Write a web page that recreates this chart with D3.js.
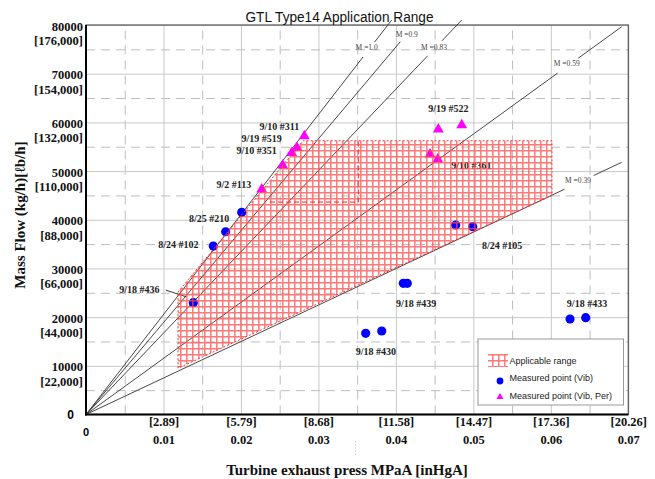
<!DOCTYPE html>
<html><head><meta charset="utf-8">
<script src="https://cdn.jsdelivr.net/npm/d3@7"></script>
<style>
html,body{margin:0;padding:0;background:#fff;}
svg{display:block;}
</style></head>
<body>
<svg id="chart" width="655" height="479"></svg>
<script>
// ---------------- DATA ----------------
const chartTitle = "GTL Type14 Application Range";
const xTitle = "Turbine exhaust press MPaA [inHgA]";
const yTitle = "Mass Flow (kg/h)[\u2113b/h]";

const xTicks = [0.01, 0.02, 0.03, 0.04, 0.05, 0.06, 0.07];
const xTickDecimal = ["0.01", "0.02", "0.03", "0.04", "0.05", "0.06", "0.07"];
const xTickInHg = ["[2.89]", "[5.79]", "[8.68]", "[11.58]", "[14.47]", "[17.36]", "[20.26]"];
const xMinorTicks = [0.005, 0.015, 0.025, 0.035, 0.045, 0.055, 0.065];

const yTicks = [10000, 20000, 30000, 40000, 50000, 60000, 70000, 80000];
const yTickLbh = ["[22,000]", "[44,000]", "[66,000]", "[88,000]", "[110,000]", "[132,000]", "[154,000]", "[176,000]"];
const yMinorTicks = [5000, 15000, 25000, 35000, 45000, 55000, 65000, 75000];

// Measured point (Vib): [MPaA, kg/h]
const vibPoints = [
  [0.01385, 22960], [0.01643, 34600], [0.01803, 37540], [0.0201, 41520],
  [0.0361, 16670], [0.03817, 17150], [0.04096, 26940], [0.04147, 26940],
  [0.06248, 19610], [0.0645, 19880], [0.04772, 38920], [0.04992, 38570]
];
// Measured point (Vib, Per)
const vibPerPoints = [
  [0.02268, 46450], [0.02539, 51380], [0.02655, 53960], [0.02724, 55000],
  [0.02818, 57390], [0.04548, 58770], [0.0485, 59650], [0.0444, 53650], [0.0454, 52620]
];
// Point annotations: text, anchor [MPaA, kg/h]
const pointLabelText = ["9/18 #436", "8/24 #102", "8/25 #210", "9/2 #113", "9/10 #351", "9/19 #519", "9/10 #311",
  "9/19 #522", "9/10 #361", "8/24 #105", "9/18 #439", "9/18 #430", "9/18 #433"];
const pointLabelPos = [
  [0.00688, 25770], [0.01191, 34960], [0.01588, 40300], [0.0191, 47140], [0.02203, 54320], [0.02268, 56730],
  [0.02495, 59250], [0.04677, 62890], [0.04976, 51240], [0.0537, 34810], [0.0426, 22840], [0.03743, 12840],
  [0.06467, 22900]
];
// leader line for 9/18 #436
const leader436 = [[0.01030, 25550], [0.01291, 24190]];

// Mach lines from origin: label, end point, label position
const machNames = ["M =1.0", "M =0.9", "M =0.83", "M =0.59", "M =0.39"];
const machEnds = [[0.03946, 81020], [0.04075, 76900], [0.0485, 81020], [0.06915, 79650], [0.06915, 51800]];
const machLabelPos = [[0.03623, 75330], [0.0414, 78090], [0.04492, 75330], [0.06205, 71990], [0.06351, 48160]];

// Applicable range polygon
const rangeX = [0.01188, 0.01188, 0.02801, 0.06015, 0.06015];
const rangeY = [9500, 25150, 56220, 56220, 44970];
// inner dashed sub-range
const innerX = [0.02375, 0.03515];
const innerY = [43630, 56220];

const legendItems = ["Applicable range", "Measured point (Vib)", "Measured point (Vib, Per)"];

// ---------------- DRAW ----------------
const svg = d3.select("#chart");
const W = 655, H = 479;
const m = {left: 86, right: 26.7, top: 25, bottom: 64.5};
const x = d3.scaleLinear().domain([0, 0.07]).range([m.left, W - m.right]);
const y = d3.scaleLinear().domain([0, 80000]).range([H - m.bottom, m.top]);
const pw = x(0.07) - x(0), ph = y(0) - y(80000);
const serif = "'Liberation Serif','Times New Roman',serif";
const sans = "'Liberation Sans',Arial,sans-serif";

const defs = svg.append("defs");
const pat = defs.append("pattern").attr("id", "hatch").attr("patternUnits", "userSpaceOnUse")
  .attr("width", 6).attr("height", 6);
pat.append("path").attr("d", "M0,0.8H6M0.8,0V6").attr("stroke", "#ff4a4a")
  .attr("stroke-opacity", 0.75).attr("stroke-width", 1.5).attr("fill", "none");

// Grid
const gridG = svg.append("g");
gridG.append("g").attr("transform", `translate(0,${y(0)})`)
  .call(d3.axisBottom(x).tickValues(xMinorTicks).tickSize(-ph).tickFormat(""))
  .call(g => g.select(".domain").remove())
  .call(g => g.selectAll("line").attr("stroke", "#bdbdbd").attr("stroke-dasharray", "9,6"));
gridG.append("g").attr("transform", `translate(0,${y(0)})`)
  .call(d3.axisBottom(x).tickValues(xTicks).tickSize(-ph).tickFormat(""))
  .call(g => g.select(".domain").remove())
  .call(g => g.selectAll("line").attr("stroke", "#c8c8c8"));
gridG.append("g").attr("transform", `translate(${x(0)},0)`)
  .call(d3.axisLeft(y).tickValues(yMinorTicks).tickSize(-pw).tickFormat(""))
  .call(g => g.select(".domain").remove())
  .call(g => g.selectAll("line").attr("stroke", "#bdbdbd").attr("stroke-dasharray", "9,6"));
gridG.append("g").attr("transform", `translate(${x(0)},0)`)
  .call(d3.axisLeft(y).tickValues(yTicks).tickSize(-pw).tickFormat(""))
  .call(g => g.select(".domain").remove())
  .call(g => g.selectAll("line").attr("stroke", "#c8c8c8"));

// Frame
svg.append("rect").attr("x", x(0)).attr("y", y(80000)).attr("width", pw).attr("height", ph)
  .attr("fill", "none").attr("stroke", "#555").attr("stroke-width", 1.2);

// Mach lines
const machG = svg.append("g");
machNames.forEach((name, i) => {
  const x0 = x(0), y0 = y(0), x1 = x(machEnds[i][0]), y1 = y(machEnds[i][1]);
  const lx = x(machLabelPos[i][0]), ly = y(machLabelPos[i][1]);
  const t = machG.append("text").attr("x", lx).attr("y", ly).attr("text-anchor", "middle")
    .attr("dominant-baseline", "central").attr("font-family", serif).attr("font-size", 7.5)
    .attr("fill", "#444").text(name);
  const bb = t.node().getBBox();
  const dx = x1 - x0, dy = y1 - y0, L = Math.hypot(dx, dy);
  const c = Math.abs(dx / L), s = Math.abs(dy / L);
  const half = Math.min((bb.width / 2 + 1.5) / c, (bb.height / 2 + 3) / s);
  const tc = ((lx - x0) * dx + (ly - y0) * dy) / (L * L);
  const ta = Math.min(1, tc - half / L), tb = tc + half / L;
  machG.append("line").attr("x1", x0).attr("y1", y0).attr("x2", x0 + dx * ta).attr("y2", y0 + dy * ta)
    .attr("stroke", "#333").attr("stroke-width", 0.9);
  if (tb < 1) {
    machG.append("line").attr("x1", x0 + dx * tb).attr("y1", y0 + dy * tb).attr("x2", x1).attr("y2", y1)
      .attr("stroke", "#333").attr("stroke-width", 0.9);
  }
});

// Point labels
const lblG = svg.append("g");
pointLabelText.forEach((txt, i) => {
  lblG.append("text").attr("x", x(pointLabelPos[i][0])).attr("y", y(pointLabelPos[i][1]))
    .attr("text-anchor", "middle").attr("dominant-baseline", "central")
    .attr("font-family", serif).attr("font-weight", "bold").attr("font-size", 10)
    .attr("fill", "#222").text(txt);
});
lblG.append("line").attr("x1", x(leader436[0][0])).attr("y1", y(leader436[0][1]))
  .attr("x2", x(leader436[1][0])).attr("y2", y(leader436[1][1])).attr("stroke", "#222").attr("stroke-width", 0.9);

// Points
const triPath = d3.symbol().type(d3.symbolTriangle).size(52);
svg.append("g").selectAll("circle").data(vibPoints).join("circle")
  .attr("cx", d => x(d[0])).attr("cy", d => y(d[1])).attr("r", 4.6).attr("fill", "#0000ff");
svg.append("g").selectAll("path").data(vibPerPoints).join("path")
  .attr("d", triPath).attr("transform", d => `translate(${x(d[0])},${y(d[1]) + 1})`).attr("fill", "#ff00ff");

// Applicable range
const poly = rangeX.map((v, i) => [x(v), y(rangeY[i])]);
svg.append("path").attr("d", d3.line()(poly) + "Z").attr("fill", "url(#hatch)")
  .attr("stroke", "#ff3030").attr("stroke-width", 1).attr("stroke-dasharray", "2,2");
svg.append("path")
  .attr("d", d3.line()([[x(innerX[0]), y(innerY[0])], [x(innerX[1]), y(innerY[0])], [x(innerX[1]), y(innerY[1])]]))
  .attr("fill", "none").attr("stroke", "#ff2020").attr("stroke-width", 1).attr("stroke-dasharray", "5,3");

// Axes lines
svg.append("line").attr("x1", x(0)).attr("x2", x(0)).attr("y1", y(80000)).attr("y2", y(0) + 1)
  .attr("stroke", "#000").attr("stroke-width", 2);
svg.append("line").attr("x1", x(0) - 1).attr("x2", x(0.07)).attr("y1", y(0)).attr("y2", y(0))
  .attr("stroke", "#000").attr("stroke-width", 2);

// Y tick labels
svg.append("g").attr("transform", `translate(${x(0) - 3},1)`)
  .call(d3.axisLeft(y).tickValues(yTicks).tickSize(0).tickPadding(0).tickFormat(d => String(d)))
  .call(g => g.select(".domain").remove())
  .call(g => g.selectAll("text").attr("font-family", serif).attr("font-weight", "bold")
    .attr("font-size", 12.5).attr("fill", "#111"));
svg.append("g").attr("transform", `translate(${x(0) - 3},15.5)`)
  .call(d3.axisLeft(y).tickValues(yTicks).tickSize(0).tickPadding(0).tickFormat((d, i) => yTickLbh[i]))
  .call(g => g.select(".domain").remove())
  .call(g => g.selectAll("text").attr("font-family", serif).attr("font-weight", "bold")
    .attr("font-size", 12.5).attr("fill", "#111"));
svg.append("text").attr("x", x(0) - 12).attr("y", y(0)).attr("text-anchor", "end")
  .attr("dominant-baseline", "central").attr("font-family", sans).attr("font-weight", "bold")
  .attr("font-size", 12).text("0");

// X tick labels
svg.append("g").attr("transform", `translate(0,${y(0)})`)
  .call(d3.axisBottom(x).tickValues(xTicks).tickSize(0).tickPadding(3).tickFormat((d, i) => xTickInHg[i]))
  .call(g => g.select(".domain").remove())
  .call(g => g.selectAll("text").attr("font-family", serif).attr("font-weight", "bold")
    .attr("font-size", 12.5).attr("fill", "#111"));
svg.append("g").attr("transform", `translate(0,${y(0) + 18})`)
  .call(d3.axisBottom(x).tickValues(xTicks).tickSize(0).tickPadding(3).tickFormat((d, i) => xTickDecimal[i]))
  .call(g => g.select(".domain").remove())
  .call(g => g.selectAll("text").attr("font-family", serif).attr("font-weight", "bold")
    .attr("font-size", 12.5).attr("fill", "#111"));
svg.append("text").attr("x", x(0)).attr("y", y(0) + 17).attr("text-anchor", "middle")
  .attr("dominant-baseline", "central").attr("font-family", sans).attr("font-weight", "bold")
  .attr("font-size", 11).text("0");
// small dotted artifact under axis
svg.append("line").attr("x1", x(0.0348)).attr("x2", x(0.0348)).attr("y1", y(0) + 27).attr("y2", y(0) + 40)
  .attr("stroke", "#aaa").attr("stroke-dasharray", "1,2");

// Titles
svg.append("text").attr("x", 339.5).attr("y", 17).attr("text-anchor", "middle")
  .attr("dominant-baseline", "central").attr("font-family", sans).attr("font-size", 14)
  .attr("textLength", 188).attr("lengthAdjust", "spacingAndGlyphs").attr("fill", "#111").text(chartTitle);
svg.append("text").attr("x", 347).attr("y", 470).attr("text-anchor", "middle")
  .attr("dominant-baseline", "central").attr("font-family", serif).attr("font-weight", "bold")
  .attr("font-size", 15).attr("fill", "#111").text(xTitle);
svg.append("text").attr("transform", "translate(19.5,215) rotate(-90)").attr("text-anchor", "middle")
  .attr("dominant-baseline", "central").attr("font-family", serif).attr("font-weight", "bold")
  .attr("font-size", 15).attr("fill", "#111").text(yTitle);

// Legend
const lg = svg.append("g");
lg.append("rect").attr("x", 478).attr("y", 339).attr("width", 145.5).attr("height", 66)
  .attr("fill", "#fff").attr("stroke", "#999").attr("stroke-width", 1);
lg.append("rect").attr("x", 488).attr("y", 354).attr("width", 20).attr("height", 13)
  .attr("fill", "url(#hatch)");
lg.append("circle").attr("cx", 500).attr("cy", 381).attr("r", 3.4).attr("fill", "#0000ff");
lg.append("path").attr("d", d3.symbol().type(d3.symbolTriangle).size(22)).attr("transform", "translate(500,397)")
  .attr("fill", "#ff00ff");
legendItems.forEach((t, i) => {
  lg.append("text").attr("x", 509.5).attr("y", [360.5, 378, 396][i]).attr("dominant-baseline", "central")
    .attr("font-family", sans).attr("font-size", 9).attr("fill", "#222").text(t);
});
</script>
</body></html>
